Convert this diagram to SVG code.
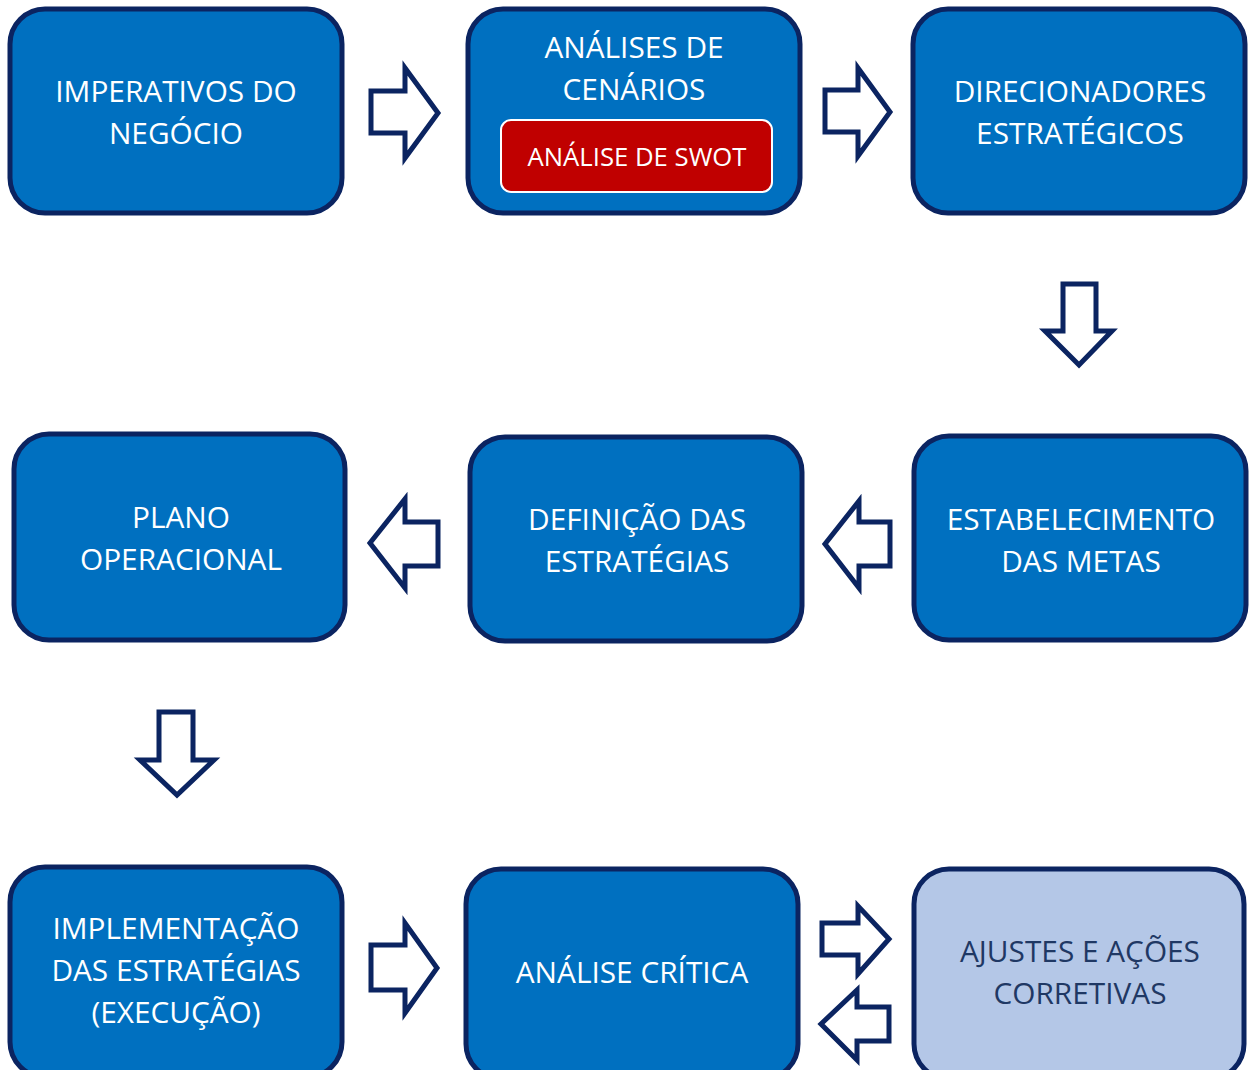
<svg xmlns="http://www.w3.org/2000/svg" width="1251" height="1070" viewBox="0 0 1251 1070">
<style>
.box{fill:#0070c0;stroke:#0b2461;stroke-width:5}
.light{fill:#b4c7e7;stroke:#0b2461;stroke-width:5}
.t{font-family:"Open Sans","Liberation Sans",sans-serif;font-size:29.8px;fill:#ffffff;text-anchor:middle}
.dt{fill:#1f3864}
.swot{fill:#c00000;stroke:#ffffff;stroke-width:2}
.st{font-family:"Open Sans","Liberation Sans",sans-serif;font-size:25.7px;fill:#ffffff;text-anchor:middle}
.arr{fill:#ffffff;stroke:#0b2461;stroke-width:5;stroke-linejoin:miter}
</style>
<rect width="1251" height="1070" fill="#ffffff"/>
<g id="connectors">
<polygon class="arr" points="371,91 405,91 405,68 438,113 405,158 405,133 371,133"/>
<polygon class="arr" points="825,90 858,90 858,68 890,112 858,156 858,132 825,132"/>
<polygon class="arr" points="1063,284 1096,284 1096,331 1112,331 1079,365 1045,331 1063,331"/>
<polygon class="arr" points="438,522 405,522 405,499 370,543 405,588 405,566 438,566"/>
<polygon class="arr" points="890,522 859,522 859,501 825,544 859,588 859,566 890,566"/>
<polygon class="arr" points="159,712 193,712 193,760 214,760 177,795 140,760 159,760"/>
<polygon class="arr" points="371,945 405,945 405,923 437,968 405,1013 405,990 371,990"/>
<polygon class="arr" points="822,923 858,923 858,906 889,939 858,974 858,955 822,955"/>
<polygon class="arr" points="889,1007 857,1007 857,990 821,1024 857,1060 857,1041 889,1041"/>
</g>
<g id="n1"><rect class="box" x="10" y="9" width="332" height="204" rx="35"/>
<text class="t" x="176" y="102">IMPERATIVOS DO</text><text class="t" x="176" y="144">NEGÓCIO</text></g>
<g id="n2"><rect class="box" x="468" y="9" width="332" height="204" rx="35"/>
<text class="t" x="634" y="58">ANÁLISES DE</text><text class="t" x="634" y="100">CENÁRIOS</text>
<g id="n2swot"><rect class="swot" x="501" y="120" width="271" height="72" rx="10"/>
<text class="st" x="637" y="166">ANÁLISE DE SWOT</text></g></g>
<g id="n3"><rect class="box" x="913" y="9" width="332" height="204" rx="35"/>
<text class="t" x="1080" y="102">DIRECIONADORES</text><text class="t" x="1080" y="144">ESTRATÉGICOS</text></g>
<g id="n4"><rect class="box" x="14" y="434" width="331" height="206" rx="35"/>
<text class="t" x="181" y="528">PLANO</text><text class="t" x="181" y="570">OPERACIONAL</text></g>
<g id="n5"><rect class="box" x="470" y="437" width="332" height="204" rx="35"/>
<text class="t" x="637" y="530">DEFINIÇÃO DAS</text><text class="t" x="637" y="572">ESTRATÉGIAS</text></g>
<g id="n6"><rect class="box" x="914" y="436" width="332" height="204" rx="35"/>
<text class="t" x="1081" y="530">ESTABELECIMENTO</text><text class="t" x="1081" y="572">DAS METAS</text></g>
<g id="n7"><rect class="box" x="10" y="867" width="332" height="210" rx="35"/>
<text class="t" x="176" y="939">IMPLEMENTAÇÃO</text><text class="t" x="176" y="981">DAS ESTRATÉGIAS</text><text class="t" x="176" y="1023">(EXECUÇÃO)</text></g>
<g id="n8"><rect class="box" x="466" y="869" width="332" height="210" rx="35"/>
<text class="t" x="632" y="983">ANÁLISE CRÍTICA</text></g>
<g id="n9"><rect class="light" x="914" y="869" width="330" height="210" rx="35"/>
<text class="t dt" x="1080" y="962">AJUSTES E AÇÕES</text><text class="t dt" x="1080" y="1004">CORRETIVAS</text></g>
</svg>
